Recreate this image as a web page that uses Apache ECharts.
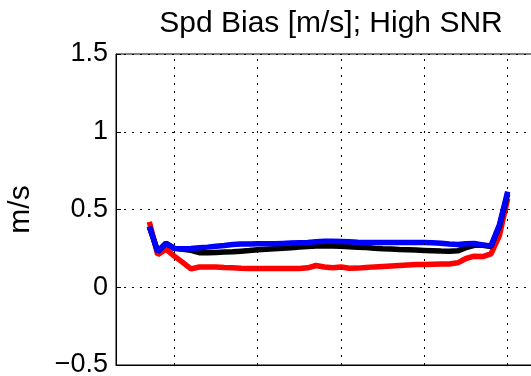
<!DOCTYPE html>
<html>
<head>
<meta charset="utf-8">
<script src="https://cdn.jsdelivr.net/npm/echarts@6/dist/echarts.min.js"></script>
<style>
html,body{margin:0;padding:0;background:#fff;}
#chart{width:531px;height:376px;}
</style>
</head>
<body>
<div id="chart"></div>
<script>
// Range-gate positions (x), and speed bias series (m/s)
const xValues = [7,8,9,10,11,12,13,14,15,16,17,18,19,20,21,22,23,24,25,26,27,28,29,30,31,32,33,34,35,36,37,38,39,40,41,42,43,44,45,46,47,48,49,50];
const redValues = [0.42,0.21,0.245,0.20,0.16,0.118,0.13,0.13,0.13,0.127,0.125,0.122,0.12,0.12,0.12,0.12,0.12,0.12,0.12,0.125,0.14,0.13,0.125,0.13,0.122,0.123,0.127,0.131,0.134,0.137,0.14,0.143,0.146,0.147,0.148,0.149,0.15,0.157,0.185,0.20,0.197,0.215,0.33,0.57];
const blackValues = [0.39,0.23,0.283,0.25,0.245,0.238,0.222,0.222,0.224,0.226,0.228,0.232,0.236,0.241,0.245,0.248,0.251,0.254,0.258,0.262,0.265,0.266,0.265,0.263,0.261,0.258,0.255,0.251,0.248,0.246,0.243,0.241,0.239,0.237,0.235,0.233,0.232,0.234,0.255,0.27,0.27,0.262,0.39,0.60];
const blueValues = [0.39,0.23,0.283,0.25,0.248,0.249,0.254,0.258,0.263,0.268,0.275,0.278,0.278,0.279,0.28,0.28,0.282,0.284,0.286,0.288,0.292,0.296,0.296,0.295,0.292,0.289,0.288,0.288,0.288,0.288,0.288,0.288,0.288,0.288,0.286,0.283,0.278,0.275,0.28,0.281,0.272,0.266,0.40,0.615];
const xGridTicks = [10,20,30,40,50];
const yTicks = [-0.5,0,0.5,1,1.5];
const titleText = 'Spd Bias [m/s]; High SNR';
const yName = 'm/s';

const FONT = 'Liberation Sans, Arial, Helvetica, sans-serif';
const pair = arr => xValues.map((x,i)=>[x,arr[i]]);

const chart = echarts.init(document.getElementById('chart'), null, {renderer:'canvas'});
chart.setOption({
  animation:false,
  backgroundColor:'#ffffff',
  title:{
    text:titleText, left:326, top:4, textAlign:'center',
    textStyle:{fontFamily:FONT, fontSize:30, fontWeight:'normal', color:'#000'}
  },
  grid:{left:116, top:54, width:418, height:311, show:true, borderColor:'#000', borderWidth:1,
        backgroundColor:'transparent', outerBoundsMode:'none', containLabel:false},
  xAxis:{
    type:'value', min:3, max:53.16,
    axisLine:{show:true, onZero:false, lineStyle:{color:'#000', width:1}},
    axisTick:{show:false}, axisLabel:{show:false}, splitLine:{show:false}
  },
  yAxis:{
    type:'value', min:-0.5, max:1.5, interval:0.5,
    name:yName, nameLocation:'middle', nameGap:80, nameRotate:90,
    nameTextStyle:{fontFamily:FONT, fontSize:30, color:'#000'},
    axisLine:{show:true, lineStyle:{color:'#000', width:1}},
    axisTick:{show:true, inside:true, length:5, lineStyle:{color:'#000'}},
    axisLabel:{fontFamily:FONT, fontSize:27, color:'#000', margin:8,
      formatter:v=> (v<0?'\u2212':'') + String(Math.abs(v))},
    splitLine:{show:true, lineStyle:{color:'#000', width:1, type:[2,6]}}
  },
  series:[
    {type:'line', name:'red', data:pair(redValues), showSymbol:false, symbol:'none',
     lineStyle:{color:'#ff0000', width:5.5}, z:2,
     markLine:{silent:true, symbol:'none', label:{show:false},
       lineStyle:{color:'#000', width:1, type:[2,6]},
       data:xGridTicks.map(v=>({xAxis:v}))}},
    {type:'line', name:'black', data:pair(blackValues), showSymbol:false, symbol:'none',
     lineStyle:{color:'#000000', width:5.5}, z:3},
    {type:'line', name:'blue', data:pair(blueValues), showSymbol:false, symbol:'none',
     lineStyle:{color:'#0000ff', width:5.5}, z:4}
  ]
});
</script>
</body>
</html>
